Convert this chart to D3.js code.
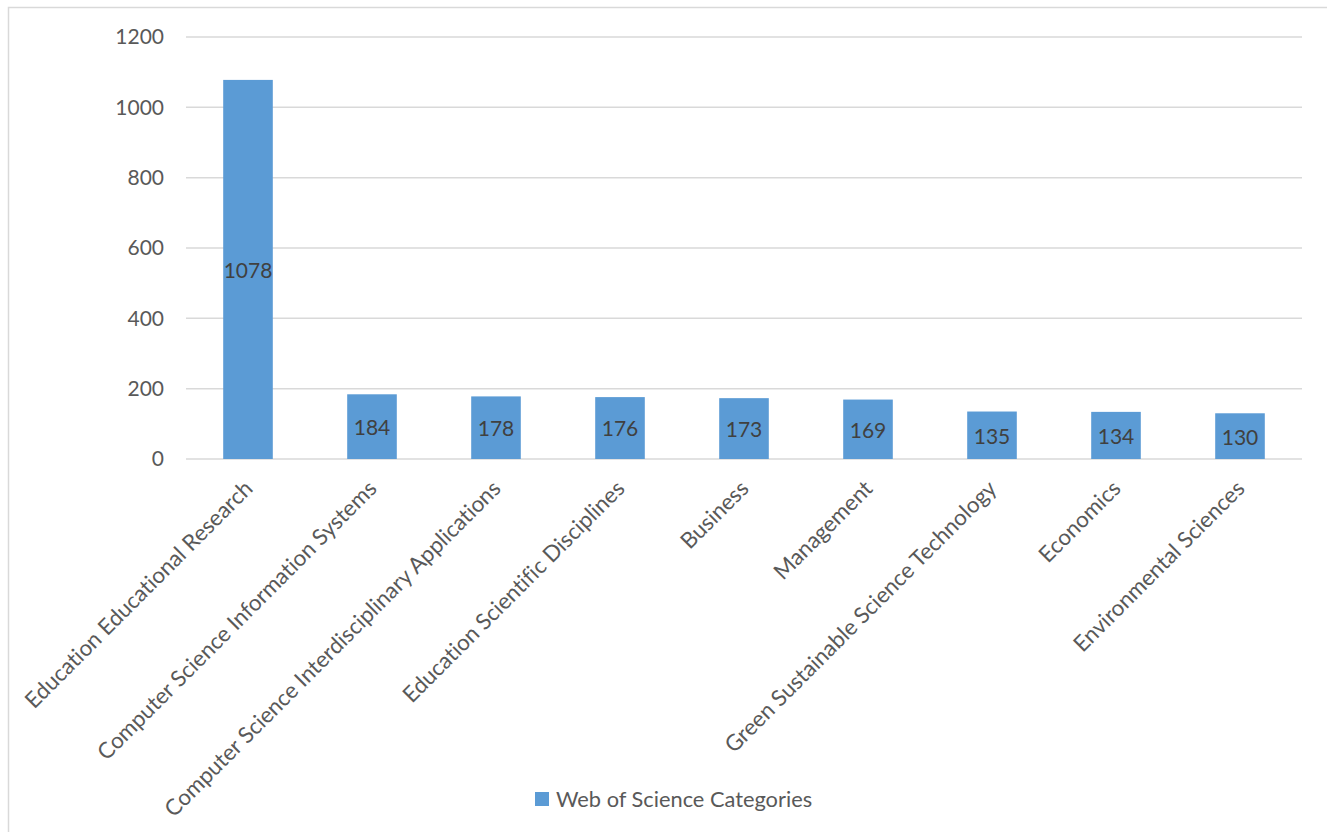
<!DOCTYPE html>
<html>
<head>
<meta charset="utf-8">
<script src="https://cdn.jsdelivr.net/npm/d3@7"></script>
<style>
  html, body { margin: 0; padding: 0; background: #fff; }
  svg { display: block; }
  text { font-family: Lato, "Open Sans", sans-serif; font-variant-ligatures: none; }
</style>
</head>
<body>
<svg id="chart" width="1327" height="832"></svg>
<script>
// Web of Science categories and record counts
const categories = [
  "Education Educational Research",
  "Computer Science Information Systems",
  "Computer Science Interdisciplinary Applications",
  "Education Scientific Disciplines",
  "Business",
  "Management",
  "Green Sustainable Science Technology",
  "Economics",
  "Environmental Sciences"
];
const counts = [1078, 184, 178, 176, 173, 169, 135, 134, 130];
const yTicks = [0, 200, 400, 600, 800, 1000, 1200];
const seriesName = "Web of Science Categories";

const W = 1327, H = 832;
const plot = { left: 186, right: 1302, top: 37, bottom: 459 };
const barColor = "#5b9bd5";
const gridColor = "#d9d9d9";
const numSize = 21;
const labelSize = 22.3;
const legendSize = 21.8;

const svg = d3.select("#chart");

// chart frame
svg.append("rect")
  .attr("x", 8.5).attr("y", 7.5)
  .attr("width", W).attr("height", H)
  .attr("fill", "#fff")
  .attr("stroke", gridColor).attr("stroke-width", 1.5);

const x = d3.scaleBand()
  .domain(categories)
  .range([plot.left, plot.right])
  .paddingInner(0.6).paddingOuter(0.3);

const y = d3.scaleLinear()
  .domain([0, 1200])
  .range([plot.bottom, plot.top]);

// horizontal gridlines
svg.append("g")
  .selectAll("line")
  .data(yTicks)
  .join("line")
  .attr("x1", plot.left).attr("x2", plot.right)
  .attr("y1", d => y(d)).attr("y2", d => y(d))
  .attr("stroke", gridColor).attr("stroke-width", 1.5);

// y axis labels
const yAxis = d3.axisLeft(y).tickValues(yTicks).tickFormat(d3.format("d"))
  .tickSize(0).tickPadding(0);
const gy = svg.append("g")
  .attr("transform", `translate(${plot.left - 22},0)`)
  .call(yAxis);
gy.select(".domain").remove();
gy.selectAll("text")
  .attr("fill", "#595959")
  .attr("font-size", numSize)
  .attr("font-family", "Lato, 'Open Sans', sans-serif");

// bars
svg.append("g")
  .selectAll("rect")
  .data(categories)
  .join("rect")
  .attr("x", d => x(d))
  .attr("width", x.bandwidth())
  .attr("y", (d, i) => y(counts[i]))
  .attr("height", (d, i) => y(0) - y(counts[i]))
  .attr("fill", barColor);

// value labels centred in each bar
svg.append("g")
  .selectAll("text")
  .data(categories)
  .join("text")
  .attr("x", d => x(d) + x.bandwidth() / 2)
  .attr("y", (d, i) => (y(counts[i]) + y(0)) / 2)
  .attr("dy", "0.4em")
  .attr("text-anchor", "middle")
  .attr("fill", "#404040")
  .attr("font-size", numSize)
  .text((d, i) => counts[i]);

// category axis labels, rotated
const xAxis = d3.axisBottom(x).tickSize(0).tickPadding(0);
const gx = svg.append("g")
  .attr("transform", `translate(0,${plot.bottom})`)
  .call(xAxis);
gx.select(".domain").remove();
gx.selectAll("text")
  .attr("fill", "#595959")
  .attr("font-size", labelSize)
  .attr("font-family", "Lato, 'Open Sans', sans-serif")
  .attr("text-anchor", "end")
  .attr("dy", 0)
  .attr("y", 0)
  .attr("transform", "translate(6,31) rotate(-45)");

// legend
const legend = svg.append("g").attr("transform", "translate(535,792)");
legend.append("rect")
  .attr("width", 14).attr("height", 14)
  .attr("fill", barColor);
legend.append("text")
  .attr("x", 21).attr("y", 7)
  .attr("dy", "0.35em")
  .attr("fill", "#595959")
  .attr("font-size", legendSize)
  .text(seriesName);
</script>
</body>
</html>
